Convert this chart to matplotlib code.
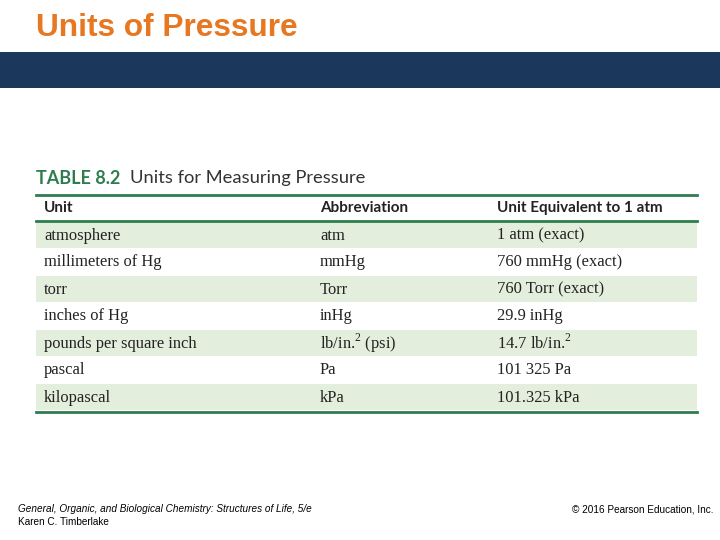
import matplotlib.pyplot as plt
from matplotlib.patches import Rectangle

# =========================
# Table data
# =========================
units = ["atmosphere", "millimeters of Hg", "torr", "inches of Hg",
         "pounds per square inch", "pascal", "kilopascal"]
abbreviations = ["atm", "mmHg", "Torr", "inHg",
                 r"lb/in.$^{2}$ (psi)", "Pa", "kPa"]
equivalents = ["1 atm (exact)", "760 mmHg (exact)", "760 Torr (exact)",
               "29.9 inHg", r"14.7 lb/in.$^{2}$", "101 325 Pa", "101.325 kPa"]
headers = ["Unit", "Abbreviation", "Unit Equivalent to 1 atm"]

# =========================
# Layout (pixel coords)
# =========================
W, H = 720, 540
col_x = [44, 320, 497]
left, right = 36, 697
row_top0, row_h = 222, 27
green = "#2E7D4F"
stripe = "#E4EEDD"

plt.rcParams["mathtext.fontset"] = "custom"
plt.rcParams["mathtext.rm"] = "Liberation Serif"

fig = plt.figure(figsize=(7.2, 5.4), dpi=100)
ax = fig.add_axes([0, 0, 1, 1])
ax.set_xlim(0, W)
ax.set_ylim(H, 0)
ax.axis("off")

# slide title + band
ax.text(36, 36, "Units of Pressure", color="#E87722", fontsize=22.8,
        fontweight="bold", family="Liberation Sans", va="baseline")
ax.add_patch(Rectangle((0, 52), W, 36, color="#1B375C", lw=0))

# table caption
ax.text(36, 178, "TABLE 8.2", color=green, fontsize=13, fontweight="bold",
        family="Lato", va="center")
ax.text(130, 178, "Units for Measuring Pressure", color="#333333", fontsize=13.2,
        family="Lato", va="center")

# lines
ax.plot([left, right], [195, 195], color=green, lw=2)
ax.plot([left, right], [220.5, 220.5], color=green, lw=2)

for x, h in zip(col_x, headers):
    ax.text(x, 208, h, fontsize=11, fontweight="bold", family="Lato",
            color="#222222", va="center")

# rows
for i, row in enumerate(zip(units, abbreviations, equivalents)):
    top = row_top0 + i * row_h
    if i % 2 == 0:
        ax.add_patch(Rectangle((left, top), right - left, row_h - 1.5,
                               color=stripe, lw=0))
    for x, txt in zip(col_x, row):
        ax.text(x, top + row_h / 2, txt, fontsize=11.9,
                family="Liberation Serif", color="#222222", va="center")

ax.plot([left, right], [411.5, 411.5], color=green, lw=2)

# footer
ax.text(18, 509, "General, Organic, and Biological Chemistry: Structures of Life, 5/e",
        fontsize=7.2, style="italic", family="Liberation Sans", va="center")
ax.text(18, 522, "Karen C. Timberlake", fontsize=7.2, family="Liberation Sans",
        va="center")
ax.text(714, 509, "© 2016 Pearson Education, Inc.", fontsize=7.2,
        family="Liberation Sans", va="center", ha="right")

plt.savefig("out.png", dpi=100)
